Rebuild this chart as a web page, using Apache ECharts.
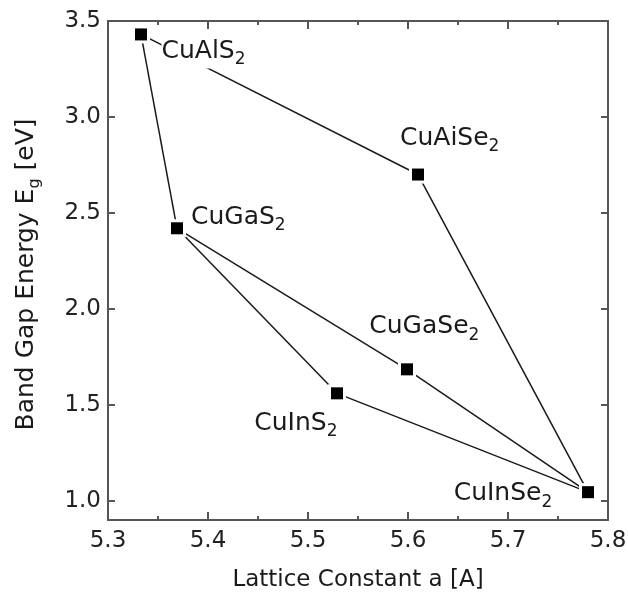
<!DOCTYPE html>
<html><head><meta charset="utf-8">
<script src="https://cdn.jsdelivr.net/npm/echarts@6/dist/echarts.min.js"></script>
<style>html,body{margin:0;padding:0;background:#fff}#c{width:628px;height:595px}</style>
</head><body><div id="c"></div>
<script>
// ---- data ----
const compoundBase = ['CuAlS', 'CuGaS', 'CuInS', 'CuAiSe', 'CuGaSe', 'CuInSe'];
const compoundSub = ['2', '2', '2', '2', '2', '2'];
const latticeA = [5.333, 5.369, 5.529, 5.610, 5.599, 5.780];
const bandGap = [3.43, 2.42, 1.56, 2.70, 1.685, 1.045];
const links = [[0, 1], [1, 2], [1, 4], [2, 5], [4, 5], [0, 3], [3, 5]];
const xTicks = [5.3, 5.4, 5.5, 5.6, 5.7, 5.8];
const yTicks = [1.0, 1.5, 2.0, 2.5, 3.0, 3.5];
const xTitle = 'Lattice Constant a [A]';

// ---- styles ----
const FONT = 'DejaVu Sans';
const AX = '#555';
const labelOffsets = [[20.5, 0], [14, -27.7], [-82.7, 12.9], [-18, -53.3], [-37.7, -59.4], [-134.3, -15.5]];
const labelBg = [true, false, false, false, false, false];

const chart = echarts.init(document.getElementById('c'), null, {renderer: 'canvas'});

const axisCommon = {
  type: 'value',
  splitLine: {show: false},
  axisLine: {show: true, onZero: false, lineStyle: {color: AX, width: 2}},
};

const xAxisBase = Object.assign({}, axisCommon, {
  min: xTicks[0], max: xTicks[xTicks.length - 1], interval: 0.1,
  axisTick: {show: true, inside: true, length: 8, lineStyle: {color: AX, width: 2}},
  minorTick: {show: true, splitNumber: 2, length: 4, lineStyle: {color: AX, width: 2}},
});
const yAxisBase = Object.assign({}, axisCommon, {
  min: 0.9, max: 3.5,
  axisTick: {show: true, inside: true, length: 7, customValues: yTicks, lineStyle: {color: AX, width: 2}},
});

const richLabel = {
  m: {fontFamily: FONT, fontSize: 25, lineHeight: 34, color: '#1a1a1a'},
  s: {fontFamily: FONT, fontSize: 17, lineHeight: 17, verticalAlign: 'bottom', color: '#1a1a1a'}
};

const series = [];
links.forEach(function (l) {
  series.push({
    type: 'line', silent: true, z: 1, symbol: 'none', animation: false,
    data: [[latticeA[l[0]], bandGap[l[0]]], [latticeA[l[1]], bandGap[l[1]]]],
    lineStyle: {color: '#1a1a1a', width: 1.5, opacity: 1}
  });
});
series.push({
  type: 'scatter', z: 3, silent: true, symbol: 'rect', symbolSize: 18, animation: false,
  itemStyle: {color: '#fff', opacity: 1},
  data: latticeA.map(function (x, i) { return [x, bandGap[i]]; })
});
series.push({
  type: 'scatter', z: 4, silent: true, symbol: 'rect', symbolSize: 12, animation: false,
  itemStyle: {color: '#000', opacity: 1},
  data: latticeA.map(function (x, i) {
    return {
      value: [x, bandGap[i]],
      label: {
        show: true, position: 'inside', align: 'left', verticalAlign: 'top',
        offset: labelOffsets[i], opacity: 1,
        backgroundColor: labelBg[i] ? '#fff' : 'transparent',
        formatter: '{m|' + compoundBase[i] + '}{s|' + compoundSub[i] + '}',
        rich: richLabel
      }
    };
  })
});

chart.setOption({
  animation: false,
  backgroundColor: '#fff',
  grid: {left: 108, right: 20, top: 21, bottom: 75, containLabel: false, outerBoundsMode: 'none'},
  xAxis: [
    Object.assign({}, xAxisBase, {
      position: 'bottom',
      axisLabel: {fontFamily: FONT, fontSize: 23, color: '#222', margin: 10,
        formatter: function (v) { return v.toFixed(1); }},
      name: xTitle, nameLocation: 'middle', nameGap: 49,
      nameTextStyle: {fontFamily: FONT, fontSize: 23, color: '#1a1a1a'}
    }),
    Object.assign({}, xAxisBase, {position: 'top', axisLabel: {show: false}})
  ],
  yAxis: [
    Object.assign({}, yAxisBase, {
      position: 'left',
      axisLabel: {fontFamily: FONT, fontSize: 23, color: '#222', margin: 7, customValues: yTicks,
        formatter: function (v) { return v.toFixed(1); }},
      name: '{m|Band Gap Energy E}{s|g}{m| [eV]}', nameLocation: 'middle', nameGap: 65,
      nameTextStyle: {
        padding: [0, 8, 0, 0],
        rich: {
          m: {fontFamily: FONT, fontSize: 25, lineHeight: 34, color: '#1a1a1a'},
          s: {fontFamily: FONT, fontSize: 16, lineHeight: 16, verticalAlign: 'bottom', color: '#1a1a1a'}
        }
      }
    }),
    Object.assign({}, yAxisBase, {position: 'right', axisLabel: {show: false}})
  ],
  series: series
});
</script>
</body></html>
